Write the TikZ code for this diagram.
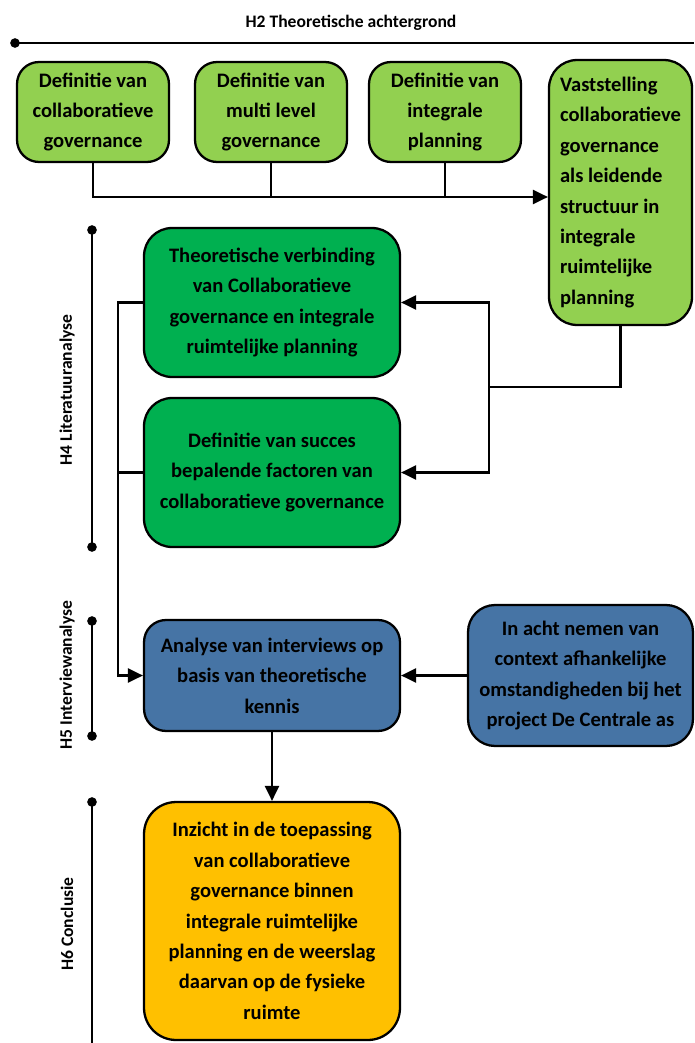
\documentclass[tikz,border=0pt]{standalone}
\usepackage{fontspec}
\setmainfont{Carlito}
\usetikzlibrary{arrows.meta}
\definecolor{LightGreen}{RGB}{146, 208, 80}
\definecolor{DarkGreen}{RGB}{0, 176, 80}
\definecolor{PlanBlue}{RGB}{70, 116, 165}
\definecolor{PlanYellow}{RGB}{255, 192, 0}
\newcommand{\boxfont}{\fontsize{11.7}{17.3}\selectfont\bfseries}
\newcommand{\labelfont}{\fontsize{10}{12}\selectfont\bfseries}
\tikzset{
  box/.style={draw=black, line width=1.3pt, align=center, font=\boxfont, inner sep=3pt},
  defbox/.style={box, fill=LightGreen, rounded corners=0.44cm, minimum width=3.04cm, minimum height=2cm},
  litbox/.style={box, fill=DarkGreen, rounded corners=0.56cm, minimum width=5.12cm, minimum height=2.98cm},
  phase/.style={line width=1.2pt},
  phasedot/.style={fill=black, circle, inner sep=0pt, minimum size=5.5pt},
}

\begin{document}
\begin{tikzpicture}[x=0.02cm, y=-0.02cm, >={Triangle[length=8.5pt,width=8pt]}, line width=1.2pt]
\useasboundingbox (0,0) rectangle (694,1043);

% chapter markers
\node[font=\labelfont] (title) at (351,23) {H2 Theoretische achtergrond};
\node[phasedot] (h2a) at (15,43) {};
\coordinate (h2b) at (694,43);
\draw[phase] (h2a.center) -- (h2b);

\node[phasedot] (h4a) at (92,230) {};
\node[phasedot] (h4b) at (92,547) {};
\draw[phase] (h4a.center) -- (h4b.center);
\node[font=\labelfont, rotate=90] (lblH4) at (67,390) {H4 Literatuuranalyse};

\node[phasedot] (h5a) at (92,621) {};
\node[phasedot] (h5b) at (92,736) {};
\draw[phase] (h5a.center) -- (h5b.center);
\node[font=\labelfont, rotate=90] (lblH5) at (67,675) {H5 Interviewanalyse};

\node[phasedot] (h6a) at (92,802) {};
\coordinate (h6b) at (92,1043);
\draw[phase] (h6a.center) -- (h6b);
\node[font=\labelfont, rotate=90] (lblH6) at (67,924) {H6 Conclusie};

% boxes
\node[defbox] (b1) at (93,112) {Definitie van\\collaboratieve\\governance};
\node[defbox] (b2) at (271,112) {Definitie van\\multi level\\governance};
\node[defbox] (b3) at (445,112) {Definitie van\\integrale\\planning};
\node[box, fill=LightGreen, align=left, rounded corners=0.56cm, minimum width=2.86cm, minimum height=5.3cm] (b4) at (620.5,192.5)
  {Vaststelling\\collaboratieve\\governance\\als leidende\\structuur in\\integrale\\ruimtelijke\\planning};
\node[litbox] (b5) at (272,302.5) {Theoretische verbinding\\van Collaboratieve\\governance en integrale\\ruimtelijke planning};
\node[litbox] (b6) at (272,472.5) {Definitie van succes\\bepalende factoren van\\collaboratieve governance};
\node[box, fill=PlanBlue, rounded corners=0.44cm, minimum width=5.12cm, minimum height=2.22cm] (b7) at (272,675.5)
  {Analyse van interviews op\\basis van theoretische\\kennis};
\node[box, fill=PlanBlue, rounded corners=0.54cm, minimum width=4.5cm, minimum height=2.82cm] (b8) at (580.5,675.5)
  {In acht nemen van\\context afhankelijke\\omstandigheden bij het\\project De Centrale as};
\node[box, fill=PlanYellow, rounded corners=0.64cm, minimum width=5.12cm, minimum height=4.76cm] (b9) at (272,921)
  {Inzicht in de toepassing\\van collaboratieve\\governance binnen\\integrale ruimtelijke\\planning en de weerslag\\daarvan op de fysieke\\ruimte};

% connectors
\coordinate (bus) at (0,197);
\draw[->] (b1.south) |- (b4.west |- bus);
\draw (b2.south) -- (b2.south |- bus);
\draw (b3.south) -- (b3.south |- bus);

\coordinate (split) at (489,387);
\draw (b4.south) |- (split);
\draw[->] (split) |- (b5.east);
\draw[->] (split) |- (b6.east);

\coordinate (lft) at (118,0);
\draw[->] (b5.west) -- (b5.west -| lft) |- (b7.west);
\draw (b6.west) -- (b6.west -| lft);

\draw[->] (b8.west) -- (b7.east);
\draw[->] (b7.south) -- (b9.north);
\end{tikzpicture}
\end{document}
